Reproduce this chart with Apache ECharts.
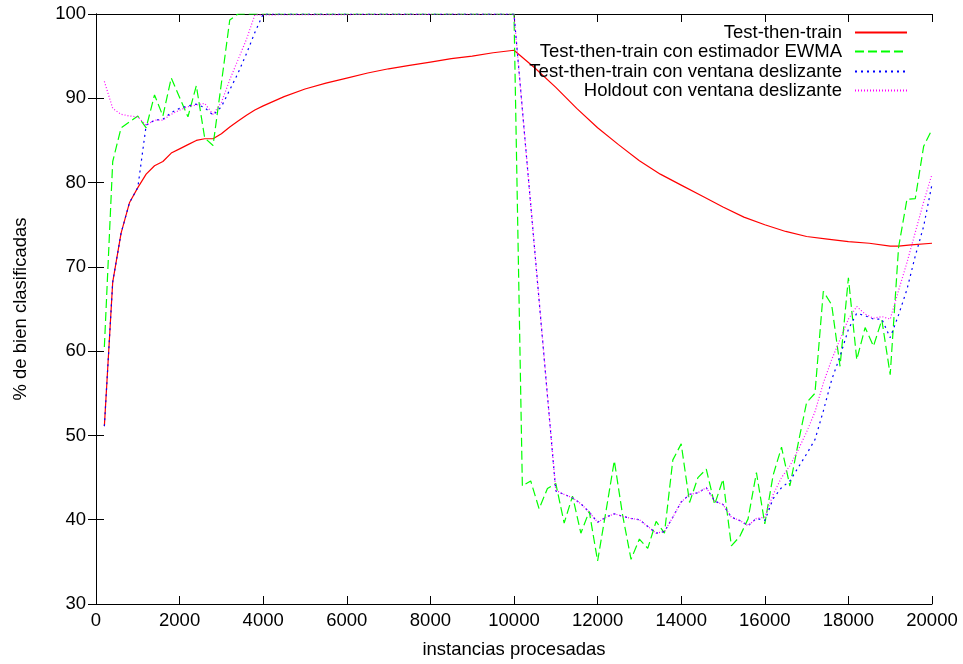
<!DOCTYPE html>
<html>
<head>
<meta charset="utf-8">
<script src="https://cdn.jsdelivr.net/npm/echarts@6/dist/echarts.min.js"></script>
<style>
html,body{margin:0;padding:0;background:#fff;}
#chart{width:963px;height:664px;}
</style>
</head>
<body>
<div id="chart"></div>
<script>
// ---- data ----
const xTicks = [0, 2000, 4000, 6000, 8000, 10000, 12000, 14000, 16000, 18000, 20000];
const yTicks = [30, 40, 50, 60, 70, 80, 90, 100];

const seriesNames = [
  'Test-then-train',
  'Test-then-train con estimador EWMA',
  'Test-then-train con ventana deslizante',
  'Holdout con ventana deslizante'
];

const ttX = [200,400,600,800,1000,1200,1400,1600,1800,2000,2200,2400,2600,2800,3000,3200,3400,3600,3800,4000,4500,5000,5500,6000,6500,7000,7500,8000,8500,9000,9500,10000,10500,11000,11500,12000,12500,13000,13500,14000,14500,15000,15500,16000,16500,17000,17500,18000,18500,19000,19200,19500,20000];
const ttY = [51.1,68.2,74.0,77.6,79.4,81.0,82.0,82.5,83.5,84.0,84.5,85.0,85.2,85.2,85.8,86.6,87.3,88.0,88.6,89.1,90.2,91.1,91.8,92.4,93.0,93.5,93.9,94.3,94.7,95.0,95.4,95.7,93.6,91.3,88.8,86.5,84.5,82.6,81.0,79.7,78.4,77.1,75.9,75.0,74.2,73.6,73.3,73.0,72.8,72.45,72.45,72.6,72.8];

const ewmaX = [200,400,600,800,1000,1200,1400,1600,1800,2000,2200,2400,2600,2800,3000,3200,3400,10000,10200,10400,10600,10800,11000,11200,11400,11600,11800,12000,12200,12400,12600,12800,13000,13200,13400,13600,13800,14000,14200,14400,14600,14800,15000,15200,15400,15600,15800,16000,16200,16400,16600,16800,17000,17200,17400,17600,17800,18000,18200,18400,18600,18800,19000,19200,19400,19600,19800,20000];
const ewmaY = [60.5,82.5,86.5,87.2,87.9,86.5,90.4,87.9,92.4,90.1,87.8,91.5,85.3,84.4,91.8,99.3,100,100,44.0,44.6,41.3,43.7,44.3,39.6,42.8,38.4,41.0,35.1,41.0,47.0,40.5,35.3,37.7,36.6,39.8,38.4,47.1,49.0,42.05,45.0,46.0,41.8,44.8,36.9,38.0,40.1,45.6,39.5,45.3,48.6,44.0,49.1,53.9,55.0,67.1,65.5,58.2,68.7,59.0,62.8,60.6,63.7,57.2,72.3,78.0,78.1,84.3,86.3];

const ventX = [200,400,600,800,1000,1200,1400,1600,1800,2000,2200,2400,2600,2800,3000,3200,3400,3600,3800,4000,10000,11000,11200,11400,11600,11800,12000,12200,12400,12600,12800,13000,13200,13400,13600,13800,14000,14200,14400,14600,14800,15000,15200,15400,15600,15800,16000,16200,16400,16600,16800,17000,17200,17400,17600,17800,18000,18200,18400,18600,18800,19000,19200,19400,19600,19800,20000];
const ventY = [51.1,68.2,74.0,77.6,79.4,86.8,87.4,87.5,88.3,88.8,89.1,89.3,88.9,88.0,89.0,91.0,93.0,95.3,97.8,100,100,43.4,43.0,42.6,41.9,40.9,39.7,40.3,40.7,40.4,40.15,40.0,39.2,38.4,38.6,40.3,42.1,43.0,43.2,43.8,42.2,41.8,40.3,39.9,39.3,40.15,39.9,42.5,43.8,44.6,46.2,47.8,49.5,52.9,56.6,59.4,62.6,64.5,64.2,63.8,63.8,61.6,64.3,67.3,71.3,74.8,79.8];

const holdX = [200,400,600,800,1000,1200,1400,1600,1800,2000,2200,2400,2600,2800,3000,3200,3400,3600,3800,10000,11000,11200,11400,11600,11800,12000,12200,12400,12600,12800,13000,13200,13400,13600,13800,14000,14200,14400,14600,14800,15000,15200,15400,15600,15800,16000,16200,16400,16600,16800,17000,17200,17400,17600,17800,18000,18200,18400,18600,18800,19000,19200,19400,19600,19800,20000];
const holdY = [92.0,88.8,88.1,87.9,87.8,86.8,87.4,87.4,88.1,88.6,89.0,89.2,89.4,88.1,89.5,92.2,94.6,97.0,99.9,100,43.5,43.0,42.6,41.9,40.9,39.7,40.3,40.7,40.4,40.15,40.0,39.2,38.4,38.6,40.3,42.1,43.0,43.2,43.8,42.2,41.8,40.3,39.9,39.3,40.15,40.3,43.0,45.0,46.4,48.3,50.4,52.8,56.2,59.0,61.4,63.8,65.3,64.4,63.9,64.1,63.8,67.2,70.5,74.1,77.7,81.0];

// ---- build ----
const zip = (xs, ys) => xs.map((x, i) => [x, ys[i]]);
const FONT = 'Liberation Sans, Arial, Helvetica, sans-serif';
const FS = 18.5;

const styles = [
  {color: '#ff0000', type: 'solid'},
  {color: '#00ff00', type: [9, 4]},
  {color: '#0000ff', type: [2, 4]},
  {color: '#ff00ff', type: [1, 2]}
];
const datasets = [zip(ttX, ttY), zip(ewmaX, ewmaY), zip(ventX, ventY), zip(holdX, holdY)];

const series = seriesNames.map((name, i) => ({
  name: name,
  type: 'line',
  data: datasets[i],
  symbol: 'none',
  showSymbol: false,
  clip: true,
  lineStyle: {color: styles[i].color, width: 1.2, type: styles[i].type},
  itemStyle: {color: styles[i].color},
  z: 2 + i,
  animation: false
}));

const legendTops = [18, 37, 57, 76];
const legends = seriesNames.map((name, i) => ({
  data: [name],
  right: 50,
  top: legendTops[i],
  orient: 'vertical',
  align: 'right',
  itemWidth: 52,
  itemHeight: 14,
  selectedMode: false,
  itemStyle: {opacity: 0},
  textStyle: {fontFamily: FONT, fontSize: FS, color: '#000', padding: [0, 8, 0, 0]}
}));

const axisCommon = {
  type: 'value',
  splitLine: {show: false},
  axisLine: {show: true, lineStyle: {color: '#000', width: 1}},
  axisTick: {show: true, inside: true, length: 8, lineStyle: {color: '#000'}}
};
const plainNum = v => String(v);

const chart = echarts.init(document.getElementById('chart'));
chart.setOption({
  animation: false,
  backgroundColor: '#fff',
  grid: {left: 96, right: 31, top: 14, bottom: 59, containLabel: false},
  legend: legends,
  xAxis: [
    Object.assign({}, axisCommon, {
      position: 'bottom', min: xTicks[0], max: xTicks[xTicks.length - 1], interval: 2000,
      name: 'instancias procesadas', nameLocation: 'middle', nameGap: 36,
      nameTextStyle: {fontFamily: FONT, fontSize: FS, color: '#000'},
      axisLabel: {fontFamily: FONT, fontSize: FS, color: '#000', margin: 7, formatter: plainNum}
    }),
    Object.assign({}, axisCommon, {
      position: 'top', min: xTicks[0], max: xTicks[xTicks.length - 1], interval: 2000,
      axisLabel: {show: false}
    })
  ],
  yAxis: [
    Object.assign({}, axisCommon, {
      position: 'left', min: yTicks[0], max: yTicks[yTicks.length - 1], interval: 10,
      name: '% de bien clasificadas', nameLocation: 'middle', nameGap: 66, nameRotate: 90,
      nameTextStyle: {fontFamily: FONT, fontSize: FS, color: '#000'},
      axisLabel: {fontFamily: FONT, fontSize: FS, color: '#000', margin: 10, formatter: plainNum}
    }),
    Object.assign({}, axisCommon, {
      position: 'right', min: yTicks[0], max: yTicks[yTicks.length - 1], interval: 10,
      axisLabel: {show: false}
    })
  ],
  series: series
});
</script>
</body>
</html>
